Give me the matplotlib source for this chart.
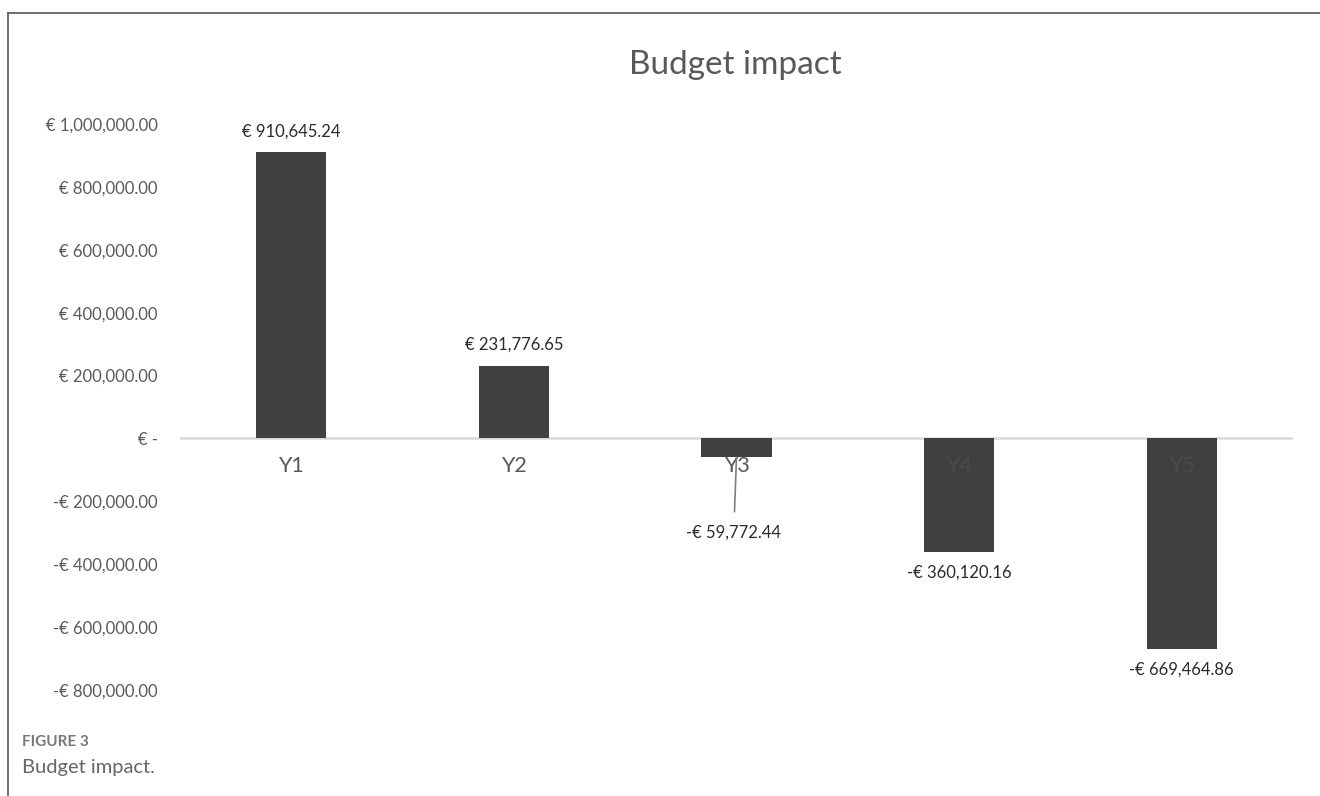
import matplotlib
matplotlib.use('Agg')
import matplotlib.pyplot as plt
from matplotlib.lines import Line2D
from matplotlib.ticker import FuncFormatter, MultipleLocator

# Data
years = ['Y1', 'Y2', 'Y3', 'Y4', 'Y5']
impact = [910645.24, 231776.65, -59772.44, -360120.16, -669464.86]
y_min, y_max, y_step = -800000, 1000000, 200000

BAR = '#404040'
TXT = '#595959'
plt.rcParams['font.family'] = ['Lato', 'DejaVu Sans']


def euro(v, _=None):
    if v == 0:
        return '€ -'
    s = f'€ {abs(v):,.2f}'
    return '-' + s if v < 0 else s


W, H = 1320, 796
fig = plt.figure(figsize=(W / 100, H / 100), dpi=100)
ax = fig.add_axes([180 / W, 1 - 690 / H, (1293 - 180) / W, (690 - 124) / H])

x = range(len(years))
ax.bar(x, impact, width=0.315, color=BAR, zorder=2)
ax.set_xlim(-0.5, len(years) - 0.5)
ax.set_ylim(y_min, y_max)
ax.axhline(0, color='#d9d9d9', lw=1.8, zorder=1)

for s in ax.spines.values():
    s.set_visible(False)
ax.set_xticks([])
ax.yaxis.set_major_locator(MultipleLocator(y_step))
ax.yaxis.set_major_formatter(FuncFormatter(euro))
ax.tick_params(axis='y', length=0, pad=16, labelsize=12, labelcolor=TXT)

# category labels just under the zero line
for i, (name, v) in enumerate(zip(years, impact)):
    on_bar = v < -60000
    ax.annotate(name, (i, 0), xytext=(0, -20), textcoords='offset points',
                ha='center', va='center', fontsize=15.5,
                color='#4b4b4b' if on_bar else TXT, zorder=3)

# data labels
for i, v in enumerate(impact):
    if i == 2:
        ax.annotate(euro(v), (i, v), xytext=(-2, -54), textcoords='offset points',
                    ha='center', va='center', fontsize=12, color='#2b2b2b',
                    arrowprops=dict(arrowstyle='-', color='#7f7f7f', lw=1.2,
                                    shrinkA=7, shrinkB=0))
    else:
        off = 15 if v > 0 else -15
        ax.annotate(euro(v), (i, v), xytext=(0, off), textcoords='offset points',
                    ha='center', va='center', fontsize=12, color='#2b2b2b')

fig.text(735 / W, 1 - 65 / H, 'Budget impact', ha='center', va='center',
         fontsize=24, color=TXT)

# frame lines and caption
fig.add_artist(Line2D([8 / W, 8 / W], [0, 1 - 13 / H], color='#555555', lw=1.2))
fig.add_artist(Line2D([8 / W, 1], [1 - 13 / H, 1 - 13 / H], color='#555555', lw=1.2))
fig.text(22 / W, 1 - 742 / H, 'FIGURE 3', fontsize=11, fontweight='bold',
         color='#777777', va='center')
fig.text(22 / W, 1 - 768 / H, 'Budget impact.', fontsize=14.5, color='#666666',
         va='center')

fig.savefig('out.png', dpi=100)
